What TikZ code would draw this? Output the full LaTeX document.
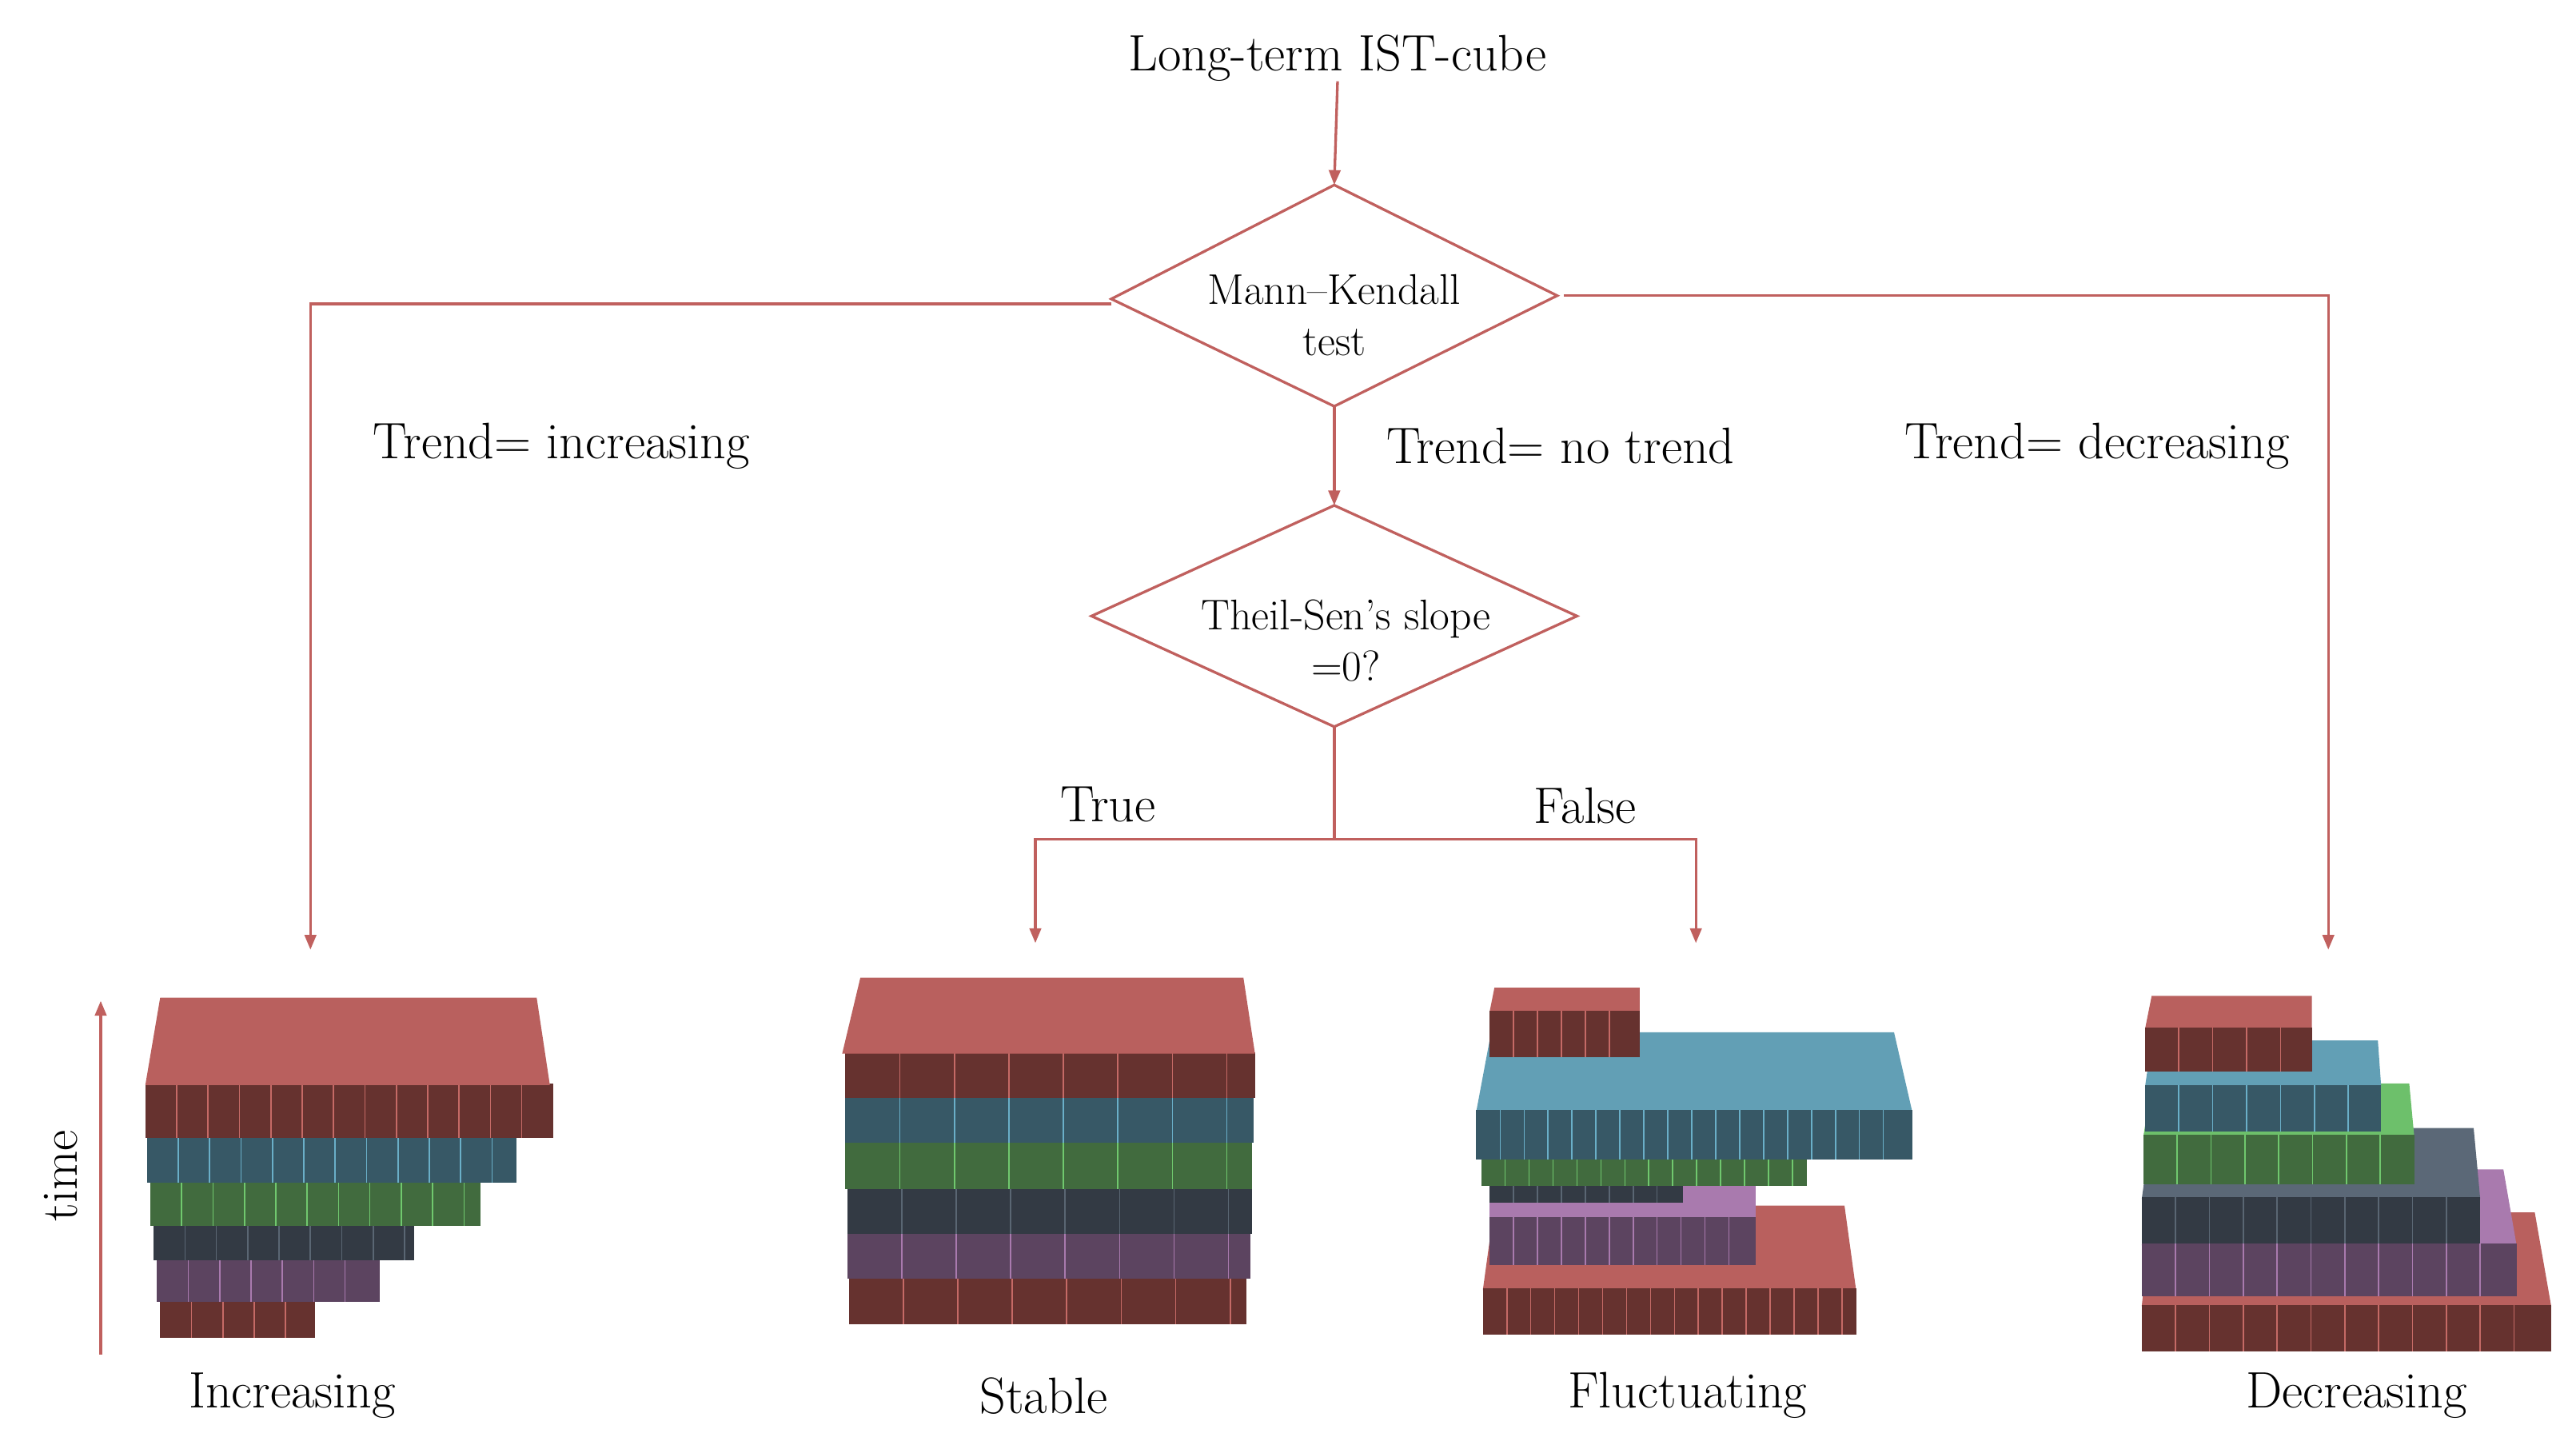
\documentclass[tikz,border=0pt]{standalone}
\usetikzlibrary{arrows.meta}
\definecolor{ln}{HTML}{C0605E}
\definecolor{rT}{HTML}{B9605E}\definecolor{rF}{HTML}{66322F}\definecolor{rL}{HTML}{C56A66}
\definecolor{tT}{HTML}{629FB5}\definecolor{tF}{HTML}{375866}\definecolor{tL}{HTML}{6AAFC8}
\definecolor{gT}{HTML}{6DC06B}\definecolor{gF}{HTML}{416B3E}\definecolor{gL}{HTML}{70C86E}
\definecolor{dT}{HTML}{5B6877}\definecolor{dF}{HTML}{333A44}\definecolor{dL}{HTML}{5A6673}
\definecolor{pT}{HTML}{A97AAE}\definecolor{pF}{HTML}{5C4460}\definecolor{pL}{HTML}{A97AAE}
\newcommand{\tface}[7]{\fill[#7] (#1,#5)--(#2,#5)--(#4,#6)--(#3,#6)--cycle;}
\newcommand{\fface}[7]{\fill[#5] (#1,#3) rectangle (#2,#4);
  \pgfmathtruncatemacro\nn{(#2-#1)/#7-0.3}
  \foreach \k in {1,...,\nn}{\draw[#6,line width=0.8pt] ({#1+\k*#7},#3)--({#1+\k*#7},#4);}}
\begin{document}
\begin{tikzpicture}[x=1pt,y=-1pt,
  lbl/.style={font=\fontsize{31}{36}\selectfont,inner sep=0pt},
  dtxt/.style={font=\fontsize{26}{31}\selectfont,align=center,inner sep=0pt},
  con/.style={draw=ln,line width=1.6pt},
  arr/.style={con,-{Triangle[length=9pt,width=7pt]}},
  dia/.style={draw=ln,line width=1.6pt}]
\useasboundingbox (0,0) rectangle (1560,877);
% top
\node[lbl] (top) at (810,35) {Long-term IST-cube};
\coordinate (d1t) at (808,112); \coordinate (d1b) at (808,246);
\coordinate (d1l) at (673,181); \coordinate (d1r) at (943,179);
\draw[dia] (d1t)--(d1r)--(d1b)--(d1l)--cycle;
\node[dtxt] (mk) at (808,191) {Mann--Kendall\\test};
\coordinate (d2t) at (808,306); \coordinate (d2b) at (808,440);
\coordinate (d2l) at (661,373); \coordinate (d2r) at (955,373);
\draw[dia] (d2t)--(d2r)--(d2b)--(d2l)--cycle;
\node[dtxt] (ts) at (815,388) {Theil-Sen's slope\\=0?};
\draw[arr] (top.south) -- (d1t);
\coordinate (incA) at (188,575); \coordinate (decA) at (1410,575);
\coordinate (stA) at (627,571); \coordinate (flA) at (1027,571);
\coordinate (jn) at (808,508);
\draw[arr] (673,184) -| (incA);
\draw[arr] (947,179) -| (decA);
\draw[arr] (d1b) -- (d2t);
\draw[con] (d2b) -- (jn);
\draw[arr] (jn) -| (stA);
\draw[arr] (jn) -| (flA);
\node[lbl] (l1) at (340,270) {Trend= increasing};
\node[lbl] (l2) at (945,270) {Trend= no trend};
\node[lbl] (l3) at (1270,270) {Trend= decreasing};
\node[lbl] (l4) at (671,487) {True};
\node[lbl] (l5) at (960,488) {False};
\node[lbl] (b1) at (177,845) {Increasing};
\node[lbl] (b2) at (632,845) {Stable};
\node[lbl] (b3) at (1022,845) {Fluctuating};
\node[lbl] (b4) at (1427,845) {Decreasing};
\node[lbl,rotate=90] (tm) at (37,712) {time};
\coordinate (ta) at (61,820); \coordinate (tb) at (61,606);
\draw[arr] (ta) -- (tb);
% Increasing
\fface{97}{191}{788}{810}{rF}{rL}{19}
\fface{95}{230}{763}{788}{pF}{pL}{19}
\fface{93}{251}{742}{763}{dF}{dL}{19}
\fface{91}{291}{716}{742}{gF}{gL}{19}
\fface{89}{313}{689}{716}{tF}{tL}{19}
\fface{88}{335}{656}{689}{rF}{rL}{19}
\tface{97}{325}{88}{333}{604}{657}{rT}
% Stable
\fface{514}{755}{774}{802}{rF}{rL}{33}
\fface{513}{757}{747}{774}{pF}{pL}{33}
\fface{513}{758}{720}{747}{dF}{dL}{33}
\fface{512}{758}{692}{720}{gF}{gL}{33}
\fface{512}{759}{665}{692}{tF}{tL}{33}
\fface{512}{760}{637}{665}{rF}{rL}{33}
\tface{521}{753}{510}{760}{592}{638}{rT}
% Fluctuating
\tface{905}{1117}{898}{1124}{730}{781}{rT}
\fface{898}{1124}{780}{808}{rF}{rL}{14.5}
\tface{902}{1063}{902}{1063}{717}{738}{pT}
\fface{902}{1063}{737}{766}{pF}{pL}{14.5}
\fface{902}{1019}{717}{728}{dF}{dL}{14.5}
\fface{897}{1094}{701}{718}{gF}{gL}{14.5}
\tface{903}{1147}{894}{1158}{625}{673}{tT}
\fface{894}{1158}{672}{702}{tF}{tL}{14.5}
\tface{905}{993}{902}{993}{598}{613}{rT}
\fface{902}{993}{612}{640}{rF}{rL}{14.5}
% Decreasing
\tface{1303}{1535}{1297}{1545}{734}{791}{rT}
\fface{1297}{1545}{790}{818}{rF}{rL}{20.5}
\tface{1303}{1516}{1297}{1524}{708}{754}{pT}
\fface{1297}{1524}{753}{785}{pF}{pL}{20.5}
\tface{1303}{1498}{1297}{1502}{683}{726}{dT}
\fface{1297}{1502}{725}{753}{dF}{dL}{20.5}
\tface{1303}{1459}{1298}{1462}{656}{688}{gT}
\fface{1298}{1462}{687}{717}{gF}{gL}{20.5}
\tface{1303}{1440}{1299}{1442}{630}{658}{tT}
\fface{1299}{1442}{657}{685}{tF}{tL}{20.5}
\tface{1303}{1400}{1299}{1400}{603}{623}{rT}
\fface{1299}{1400}{622}{649}{rF}{rL}{20.5}
\end{tikzpicture}
\end{document}
